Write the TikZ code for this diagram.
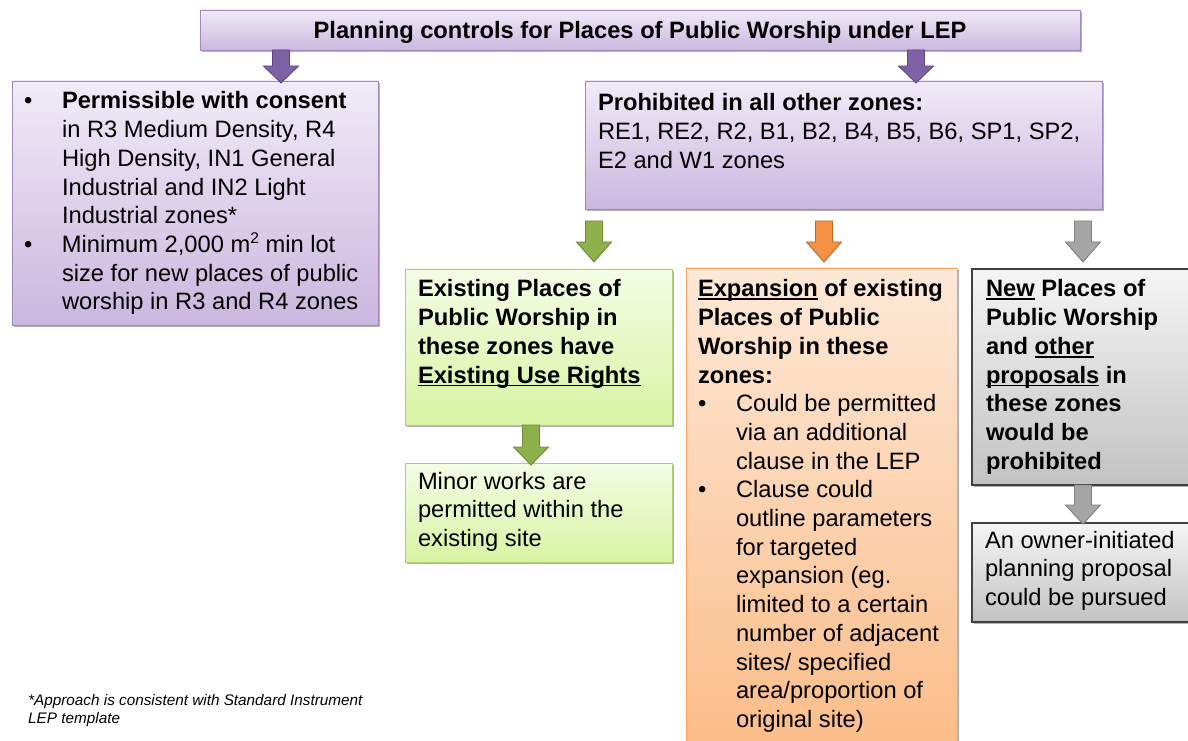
\documentclass[tikz,border=0pt]{standalone}
\usepackage{fontspec}
\setmainfont{Liberation Sans}
\usetikzlibrary{calc,shadows}
\definecolor{pTop}{HTML}{F0EBF7}
\definecolor{pBot}{HTML}{CAB7DF}
\definecolor{pBorder}{HTML}{9E89C2}
\definecolor{pArrow}{HTML}{7E62A6}
\definecolor{pArrowB}{HTML}{5C4780}
\definecolor{gTop}{HTML}{F4FCE5}
\definecolor{gBot}{HTML}{D8F4A3}
\definecolor{gBorder}{HTML}{AACC77}
\definecolor{gArrow}{HTML}{8DB04B}
\definecolor{gArrowB}{HTML}{6E8C38}
\definecolor{oTop}{HTML}{FDE8D7}
\definecolor{oBot}{HTML}{FBBD89}
\definecolor{oBorder}{HTML}{F6A25A}
\definecolor{oArrow}{HTML}{F39244}
\definecolor{oArrowB}{HTML}{B9692C}
\definecolor{yTop}{HTML}{F5F5F5}
\definecolor{yBot}{HTML}{C2C2C2}
\definecolor{yBorder}{HTML}{404040}
\definecolor{yArrow}{HTML}{A5A5A5}
\definecolor{yArrowB}{HTML}{808080}
\newcommand{\myul}[1]{\leavevmode\setbox0=\hbox{#1}\rlap{\rule[-3.4pt]{\wd0}{1.9pt}}\box0\relax}
\newcommand{\mybul}{\makebox[38pt][l]{•}}
\newcommand{\myind}{\hspace*{38pt}}
\newcommand{\mysup}[1]{\raisebox{8.5pt}{\fontsize{15.5}{15.5}\selectfont #1}}
\newcommand{\barrow}[7]{%
  \draw[#1] let \p1=(#3.south), \p2=(#4.north) in
    ({#2-8.5},{\y1-(#5pt)}) -- ({#2+8.5},{\y1-(#5pt)})
    -- ({#2+8.5},{\y2+(#6pt)+(#7pt)}) -- ({#2+17.5},{\y2+(#6pt)+(#7pt)})
    -- ({#2},{\y2+(#6pt)})
    -- ({#2-17.5},{\y2+(#6pt)+(#7pt)}) -- ({#2-8.5},{\y2+(#6pt)+(#7pt)}) -- cycle;}
\tikzset{
  box/.style={rectangle, anchor=north west, inner sep=0pt, outer sep=0pt, line width=0.9pt,
    drop shadow={shadow xshift=1.5pt, shadow yshift=-2pt, opacity=0.3, fill=black}},
  pbox/.style={box, draw=pBorder, top color=pTop, bottom color=pBot},
  gbox/.style={box, draw=gBorder, top color=gTop, bottom color=gBot},
  obox/.style={box, draw=oBorder, top color=oTop, bottom color=oBot},
  ybox/.style={box, draw=yBorder, line width=1.1pt, top color=yTop, bottom color=yBot},
  txt/.style={inner sep=0pt, outer sep=0pt, anchor=base west, text=black,
    font=\fontsize{23.7}{28.7}\selectfont},
  parr/.style={fill=pArrow, draw=pArrowB, line width=0.9pt},
  garr/.style={fill=gArrow, draw=gArrowB, line width=0.9pt},
  oarr/.style={fill=oArrow, draw=oArrowB, line width=0.9pt},
  yarr/.style={fill=yArrow, draw=yArrowB, line width=0.9pt},
}
\begin{document}
\begin{tikzpicture}[x=1pt,y=1pt]
\useasboundingbox (0,0) rectangle (1188,740);
\fill[white] (0,0) rectangle (1188,740);
\clip (0,0) rectangle (1188,740);

% boxes
\node[pbox, minimum width=880pt, minimum height=40pt, text=black,
  text height=17.2pt, text depth=1pt,
  font=\bfseries\fontsize{23.7}{28.7}\selectfont] (title) at (200,730)
  {Planning controls for Places of Public Worship under LEP};
\node[pbox, minimum width=366pt, minimum height=244pt] (left) at (12,659) {};
\node[pbox, minimum width=517pt, minimum height=128pt] (prohib) at (585,659) {};
\node[gbox, minimum width=267pt, minimum height=156pt] (green1) at (405,471) {};
\node[gbox, minimum width=267pt, minimum height=99pt] (green2) at (405,277) {};
\node[obox, minimum width=271pt, minimum height=480pt] (orange) at (686,472) {};
\node[ybox, minimum width=218pt, minimum height=216pt] (gray1) at (972,471) {};
\node[ybox, minimum width=218pt, minimum height=99pt] (gray2) at (972,217) {};

% texts
\node[txt] (tleft) at (24,631) {\parbox[t]{360pt}{%
\mybul\textbf{Permissible with consent}\\
\myind in R3 Medium Density, R4\\
\myind High Density, IN1 General\\
\myind Industrial and IN2 Light\\
\myind Industrial zones*\\
\mybul Minimum 2,000 m\mysup{2} min lot\\
\myind size for new places of public\\
\myind worship in R3 and R4 zones}};

\node[txt] (tprohib) at (598,629) {\parbox[t]{500pt}{%
\textbf{Prohibited in all other zones:}\\
RE1, RE2, R2, B1, B2, B4, B5, B6, SP1, SP2,\\
E2 and W1 zones}};

\node[txt] (tgreen1) at (418,443) {\parbox[t]{260pt}{\bfseries
Existing Places of\\
Public Worship in\\
these zones have\\
\myul{Existing Use Rights}}};

\node[txt] (tgreen2) at (418,251) {\parbox[t]{260pt}{%
Minor works are\\
permitted within the\\
existing site}};

\node[txt] (torange) at (698,443) {\parbox[t]{265pt}{%
\textbf{\myul{Expansion} of existing}\\
\textbf{Places of Public}\\
\textbf{Worship in these}\\
\textbf{zones:}\\
\mybul Could be permitted\\
\myind via an additional\\
\myind clause in the LEP\\
\mybul Clause could\\
\myind outline parameters\\
\myind for targeted\\
\myind expansion (eg.\\
\myind limited to a certain\\
\myind number of adjacent\\
\myind sites/ specified\\
\myind area/proportion of\\
\myind original site)}};

\node[txt] (tgray1) at (986,443) {\parbox[t]{210pt}{\bfseries
\myul{New} Places of\\
Public Worship\\
and \myul{other}\\
\myul{proposals} in\\
these zones\\
would be\\
prohibited}};

\node[txt] (tgray2) at (985,192) {\parbox[t]{210pt}{%
An owner-initiated\\
planning proposal\\
could be pursued}};

\node[inner sep=0pt, anchor=base west, text=black,
  font=\itshape\fontsize{15.3}{18}\selectfont] (foot) at (28,35)
  {\parbox[t]{400pt}{*Approach is consistent with Standard Instrument\\
LEP template}};

% block arrows
\barrow{parr}{281}{title}{left}{0}{-2}{17}
\barrow{parr}{916}{title}{prohib}{0}{-2}{17}
\barrow{garr}{594}{prohib}{green1}{12}{7}{20}
\barrow{oarr}{824}{prohib}{orange}{12}{6}{20}
\barrow{yarr}{1083}{prohib}{gray1}{12}{7}{20}
\barrow{garr}{531}{green1}{green2}{0}{-2}{18}
\barrow{yarr}{1083}{gray1}{gray2}{0}{-1}{19}
\end{tikzpicture}
\end{document}
